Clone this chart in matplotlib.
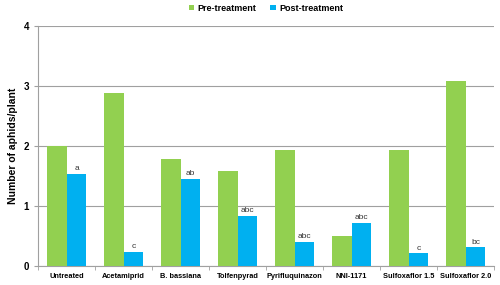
import matplotlib.pyplot as plt
import numpy as np

plt.rcParams['font.family'] = ['Liberation Sans', 'DejaVu Sans']

treatments = ["Untreated", "Acetamiprid", "B. bassiana", "Tolfenpyrad",
              "Pyrifluquinazon", "NNI-1171", "Sulfoxaflor 1.5", "Sulfoxaflor 2.0"]
pre = [2.0, 2.88, 1.79, 1.59, 1.94, 0.50, 1.94, 3.09]
post = [1.53, 0.23, 1.45, 0.83, 0.40, 0.72, 0.21, 0.31]
letters = ["a", "c", "ab", "abc", "abc", "abc", "c", "bc"]

green = "#92D050"
blue = "#00B0F0"

fig = plt.figure(figsize=(5, 2.85), dpi=100)
ax = fig.add_axes([0.076, 0.067, 0.912, 0.842])

x = np.arange(len(treatments))
w = 0.35
ax.bar(x - w/2, pre, w, color=green, label="Pre-treatment", zorder=3)
ax.bar(x + w/2, post, w, color=blue, label="Post-treatment", zorder=3)

for xi, v, t in zip(x, post, letters):
    ax.text(xi + w/2, v + 0.03, t, ha="center", va="bottom", fontsize=6, color="#333333")

ax.set_xlim(-0.5, len(treatments) - 0.5)
ax.set_ylim(0, 4)
ax.set_yticks([0, 1, 2, 3, 4])
ax.yaxis.grid(True, color="#a0a0a0", linewidth=0.8, zorder=0)
ax.set_xticks(x)
ax.set_xticklabels(treatments, fontsize=5.3, fontweight="bold")
ax.set_xticks(np.arange(-0.5, len(treatments)), minor=True)
ax.tick_params(axis="x", which="major", length=0, pad=5)
ax.tick_params(axis="x", which="minor", length=3, color="#a0a0a0")
ax.tick_params(axis="y", labelsize=7, length=3, color="#a0a0a0")
for lab in ax.get_yticklabels():
    lab.set_fontweight("bold")
ax.set_ylabel("Number of aphids/plant", fontsize=7.5, fontweight="bold")

for s in ["top", "right"]:
    ax.spines[s].set_visible(False)
for s in ["left", "bottom"]:
    ax.spines[s].set_color("#a0a0a0")

leg = ax.legend(loc="lower center", bbox_to_anchor=(0.5, 1.04), ncol=2, frameon=False,
                fontsize=6.5, handlelength=0.6, handleheight=0.6, columnspacing=1.5,
                handletextpad=0.4, borderaxespad=0)
for t in leg.get_texts():
    t.set_fontweight("bold")

fig.savefig("out.png", dpi=100)
